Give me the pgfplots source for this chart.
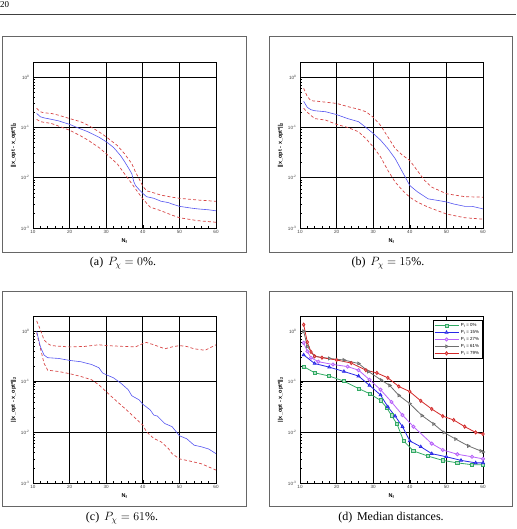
\documentclass[border=0pt]{standalone}
\usepackage{fontspec}
\setmainfont{Liberation Serif}
\setsansfont{Liberation Sans}
\usepackage{pgfplots}
\pgfplotsset{compat=1.18}
\definecolor{medblue}{RGB}{85,85,240}
\definecolor{dashred}{RGB}{215,70,70}
\definecolor{cgreen}{RGB}{50,170,100}
\definecolor{cblue}{RGB}{40,40,230}
\definecolor{cpurple}{RGB}{185,100,250}
\definecolor{cgray}{RGB}{110,110,110}
\definecolor{cred}{RGB}{210,40,40}
\pgfplotsset{
  every axis/.append style={
    scale only axis, width=183pt, height=166pt, anchor=north west,
    xmin=10, xmax=60, ymin=1e-3, ymax=2,
    xtick={10,20,...,60}, minor x tick num=4,
    ytick={0.001,0.01,0.1,1},
    yticklabels={10\textsuperscript{-3},10\textsuperscript{-2},10\textsuperscript{-1},10\textsuperscript{0}},
    /pgf/number format/assume math mode=true,
    grid=major, major grid style={black, line width=0.8pt},
    axis line style={black, line width=0.8pt},
    tick align=inside, tick pos=left,
    major tick length=3pt, minor tick length=1.8pt,
    tick style={black, line width=0.5pt},
    ticklabel style={font=\sffamily\fontsize{4.6}{5}\selectfont, text=black!75},
    xticklabel style={yshift=1pt},
    xlabel={\textbf{N\textsubscript{f}}},
    ylabel={\textbf{||x\_opt - x\_opt*||\textsubscript{2}}},
    label style={font=\sffamily\fontsize{5.5}{6}\selectfont},
    xlabel style={yshift=2pt},
    ylabel style={yshift=-2pt},
  },
}
\tikzset{
  medline/.style={medblue, line width=0.6pt},
  qline/.style={dashred, line width=0.7pt, dash pattern=on 3pt off 2.2pt},
}
\begin{document}
\begin{tikzpicture}
\useasboundingbox (0,0) rectangle (516pt,-529pt);
\node[anchor=north west, inner sep=0pt, font=\fontsize{9}{10}\selectfont] at (0pt,-1pt) {20};
\draw[black!75, line width=0.8pt] (0,-14pt) -- (516pt,-14pt);
\draw[black!60, line width=0.8pt] (2pt,-36pt) rectangle (246pt,-252pt);
\draw[black!60, line width=0.8pt] (269pt,-36pt) rectangle (512pt,-252pt);
\draw[black!60, line width=0.8pt] (2pt,-291pt) rectangle (246pt,-506pt);
\draw[black!60, line width=0.8pt] (269pt,-291pt) rectangle (512pt,-506pt);
\begin{scope}[font=\fontsize{12}{14}\selectfont]
\node at (123pt,-263pt) {(a)\hspace{0.4em}$P_{\chi}=0\%$.};
\node at (388pt,-263pt) {(b)\hspace{0.4em}$P_{\chi}=15\%$.};
\node at (122pt,-518pt) {(c)\hspace{0.4em}$P_{\chi}=61\%$.};
\node at (391pt,-518pt) {(d)\hspace{0.4em}Median distances.};
\end{scope}

% (a)
\begin{semilogyaxis}[at={(33pt,-62pt)}]
\addplot[qline, no marks] coordinates {(11,0.24)(12,0.205)(13,0.195)(15,0.19)(17,0.175)(20,0.15)(23,0.13)(25,0.111)(28,0.082)(30,0.065)(32,0.05)(33,0.044)(35,0.030)(37,0.019)(38,0.013)(39,0.0095)(40,0.0068)(41,0.0055)(43,0.005)(45,0.0045)(48,0.0041)(50,0.0039)(55,0.0036)(60,0.0034)};
\addplot[qline, no marks] coordinates {(11,0.145)(12,0.13)(15,0.12)(18,0.1)(20,0.088)(23,0.068)(25,0.056)(28,0.04)(30,0.030)(32,0.022)(33,0.019)(35,0.012)(37,0.0076)(38,0.006)(40,0.0038)(42,0.0026)(45,0.0022)(48,0.0018)(50,0.0016)(55,0.0014)(60,0.0013)};
\addplot[medline, no marks] coordinates {(11,0.19)(12,0.163)(13,0.155)(15,0.145)(17,0.135)(20,0.115)(22,0.10)(25,0.082)(28,0.064)(30,0.052)(32,0.040)(33,0.033)(34,0.027)(35,0.021)(36,0.016)(37,0.012)(37.5,0.0085)(38,0.007)(39,0.0058)(40,0.0049)(41,0.0042)(43,0.0039)(45,0.0034)(47,0.0032)(48,0.003)(50,0.0027)(53,0.0025)(55,0.0024)(58,0.0023)(60,0.0022)};
\end{semilogyaxis}

% (b)
\begin{semilogyaxis}[at={(300pt,-62pt)}]
\addplot[qline, no marks] coordinates {(11,0.6)(12,0.41)(13,0.34)(15,0.33)(20,0.3)(23,0.26)(26,0.23)(28,0.205)(30,0.16)(32,0.11)(34,0.065)(36,0.038)(38,0.028)(40,0.022)(42,0.014)(44,0.0089)(46,0.0065)(50,0.0048)(55,0.0042)(60,0.0041)};
\addplot[qline, no marks] coordinates {(11,0.24)(12,0.2)(14,0.15)(17,0.14)(20,0.115)(23,0.1)(26,0.082)(28,0.06)(30,0.041)(32,0.026)(34,0.014)(36,0.0082)(38,0.0056)(40,0.0041)(42,0.0033)(45,0.0026)(50,0.0019)(55,0.0016)(60,0.0015)};
\addplot[medline, no marks] coordinates {(11,0.33)(12,0.25)(13,0.225)(14,0.215)(17,0.205)(20,0.18)(23,0.15)(26,0.13)(28,0.1)(30,0.076)(32,0.056)(34,0.038)(36,0.024)(38,0.013)(40,0.007)(42,0.0053)(45,0.0038)(48,0.0035)(50,0.0033)(52,0.003)(55,0.0027)(57,0.0027)(60,0.0024)};
\end{semilogyaxis}

% (c)
\begin{semilogyaxis}[height=167pt, at={(33pt,-316pt)}]
\addplot[qline, no marks] coordinates {(11,1.6)(12,1.08)(13,0.68)(14,0.57)(15,0.52)(18,0.5)(20,0.49)(24,0.5)(28,0.54)(30,0.52)(35,0.5)(38,0.49)(40,0.57)(41,0.6)(43,0.54)(46,0.45)(48,0.49)(50,0.52)(52,0.5)(54,0.45)(57,0.42)(60,0.54)};
\addplot[qline, no marks] coordinates {(11,0.93)(12,0.47)(13,0.235)(14,0.17)(17,0.16)(20,0.145)(23,0.128)(26,0.11)(28,0.087)(30,0.064)(32,0.047)(34,0.035)(36,0.026)(38,0.019)(40,0.014)(41,0.0103)(43,0.0076)(45,0.0065)(47,0.0048)(48,0.0038)(50,0.003)(53,0.0027)(56,0.0024)(60,0.0018)};
\addplot[medline, no marks] coordinates {(11,1.0)(12,0.5)(13,0.34)(14,0.3)(17,0.29)(20,0.265)(23,0.25)(26,0.22)(28,0.19)(29,0.15)(30,0.138)(32,0.12)(34,0.094)(36,0.07)(37,0.053)(39,0.044)(40,0.036)(42,0.028)(43,0.022)(44,0.021)(46,0.015)(48,0.013)(50,0.0086)(52,0.0075)(54,0.0056)(56,0.0052)(58,0.0047)(60,0.0038)};
\end{semilogyaxis}

% (d)
\begin{semilogyaxis}[height=167pt, at={(300pt,-316pt)},
  legend style={at={(rel axis cs:0.995,0.975)}, anchor=north east, draw=black, line width=0.5pt,
    font=\sffamily\fontsize{4.4}{4.8}\selectfont, row sep=-1.6pt, inner sep=0.8pt},
  legend cell align=left,
  legend image code/.code={\draw[mark repeat=2,mark phase=2] plot coordinates {(0pt,0pt)(12pt,0pt)(24pt,0pt)};},
]
\addplot[cgreen, line width=0.8pt, mark size=1.6pt, mark=square*, mark options={fill=cgreen!35!white}] coordinates {(11,0.20)(14,0.151)(18,0.130)(22,0.103)(26,0.0736)(29,0.0585)(32,0.043)(33.7,0.0307)(35,0.0216)(36.5,0.0147)(38.3,0.0068)(41,0.0043)(45,0.0034)(49,0.0028)(53,0.0025)(57,0.0023)(60,0.0023)};
\addlegendentry{P\textsubscript{f} = 0\%}
\addplot[cblue, line width=0.8pt, mark size=1.6pt, mark=triangle*, mark options={fill=cblue!50!white}] coordinates {(11,0.34)(14,0.23)(18,0.195)(22,0.16)(26,0.13)(29,0.085)(32,0.055)(34,0.032)(36,0.021)(38,0.013)(40,0.0068)(43,0.0052)(46,0.0038)(50,0.0033)(54,0.0028)(58,0.0025)(60,0.0025)};
\addlegendentry{P\textsubscript{f} = 15\%}
\addplot[cpurple, line width=0.8pt, mark size=1.6pt, mark=*, mark options={fill=cpurple!35!white}] coordinates {(11,0.59)(12,0.4)(13,0.3)(15,0.25)(19,0.22)(23,0.2)(26,0.17)(29,0.11)(32,0.07)(35,0.04)(38,0.022)(41,0.013)(46,0.006)(49,0.0045)(53,0.0037)(57,0.0033)(60,0.003)};
\addlegendentry{P\textsubscript{f} = 27\%}
\addplot[cgray, line width=0.8pt, mark size=1.6pt, mark=triangle*, mark options={rotate=-90, fill=cgray!40!white}] coordinates {(11,1.0)(12,0.5)(14,0.32)(18,0.29)(22,0.27)(26,0.23)(28.7,0.16)(32.2,0.108)(34.5,0.085)(37,0.054)(40,0.037)(43.3,0.0216)(46.5,0.0147)(49.3,0.01)(52.5,0.0074)(56,0.0054)(59.4,0.0043)(60,0.0041)};
\addlegendentry{P\textsubscript{f} = 61\%}
\addplot[cred, line width=0.8pt, mark size=1.6pt, mark=diamond*, mark options={fill=cred!30!white}] coordinates {(11,1.35)(12,0.61)(13,0.39)(14,0.32)(16,0.30)(20,0.27)(24,0.235)(28,0.17)(31,0.15)(34,0.12)(37,0.081)(40,0.064)(43,0.042)(46,0.029)(49,0.021)(52,0.0176)(55,0.013)(58,0.010)(60,0.0093)};
\addlegendentry{P\textsubscript{f} = 79\%}
\end{semilogyaxis}
\end{tikzpicture}
\end{document}
